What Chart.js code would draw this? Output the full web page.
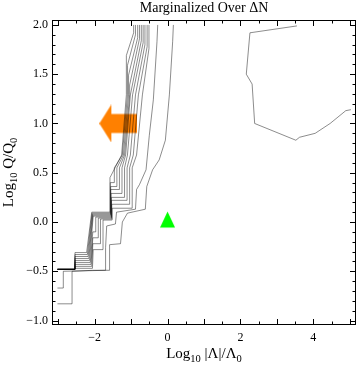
<!DOCTYPE html>
<html>
<head>
<meta charset="utf-8">
<script src="https://cdn.jsdelivr.net/npm/chart.js@4.4.0/dist/chart.umd.min.js"></script>
<style>
  body { margin: 0; background: #fff; }
</style>
</head>
<body>
<canvas id="mycanvas" width="360" height="367"></canvas>
<script>
// tick labels
var xTicks = [-2, 0, 2, 4];
var yTicks = [-1.0, -0.5, 0.0, 0.5, 1.0, 1.5, 2.0];

// contour lines as [log10 |L|/L0, log10 Q/Q0]
var contour1 = [[-3.02,-0.48],[-2.54,-0.48],[-2.54,-0.31],[-2.22,-0.31],[-2.08,0.10],[-1.58,0.10],[-1.58,0.45],[-1.26,0.68],[-1.13,1.29],[-1.13,1.69],[-0.93,1.92],[-0.93,2.00]];
var contour2 = [[-3.02,-0.48],[-2.54,-0.48],[-2.54,-0.33],[-2.20,-0.33],[-2.07,0.09],[-1.57,0.09],[-1.57,0.40],[-1.46,0.40],[-1.46,0.55],[-1.24,0.68],[-1.10,1.29],[-1.10,1.59],[-0.88,1.90],[-0.88,2.00]];
var contour3 = [[-3.02,-0.48],[-2.54,-0.48],[-2.54,-0.35],[-2.18,-0.35],[-2.06,0.08],[-1.56,0.08],[-1.56,0.36],[-1.39,0.36],[-1.39,0.55],[-1.21,0.68],[-1.07,1.29],[-1.07,1.49],[-0.82,1.87],[-0.82,2.00]];
var contour4 = [[-3.02,-0.48],[-2.54,-0.48],[-2.54,-0.37],[-2.16,-0.37],[-2.05,0.07],[-1.56,0.07],[-1.56,0.33],[-1.32,0.33],[-1.32,0.55],[-1.18,0.68],[-1.04,1.29],[-1.04,1.39],[-0.77,1.86],[-0.77,2.00]];
var contour5 = [[-3.02,-0.48],[-2.54,-0.48],[-2.54,-0.39],[-2.14,-0.39],[-2.04,0.06],[-1.55,0.06],[-1.55,0.29],[-1.25,0.29],[-1.25,0.55],[-1.15,0.68],[-1.02,1.29],[-0.72,1.84],[-0.72,2.00]];
var contour6 = [[-3.02,-0.48],[-2.54,-0.48],[-2.54,-0.41],[-2.12,-0.41],[-2.05,-0.10],[-1.97,-0.10],[-1.97,0.05],[-1.54,0.05],[-1.54,0.25],[-1.18,0.25],[-1.18,0.55],[-1.10,0.68],[-0.96,1.29],[-0.67,1.82],[-0.67,2.00]];
var contour7 = [[-3.02,-0.48],[-2.54,-0.48],[-2.54,-0.43],[-2.10,-0.43],[-2.05,-0.16],[-1.90,-0.16],[-1.90,0.04],[-1.54,0.04],[-1.54,0.22],[-1.11,0.22],[-1.11,0.55],[-1.02,0.68],[-0.88,1.29],[-0.62,1.80],[-0.62,2.00]];
var contour8 = [[-3.02,-0.48],[-2.54,-0.48],[-2.54,-0.45],[-2.08,-0.45],[-2.05,-0.22],[-1.84,-0.22],[-1.84,0.03],[-1.53,0.03],[-1.53,0.18],[-1.04,0.18],[-1.04,0.55],[-0.94,0.68],[-0.80,1.29],[-0.56,1.78],[-0.56,2.00]];
var contour9 = [[-3.02,-0.48],[-2.54,-0.48],[-2.54,-0.47],[-2.06,-0.47],[-2.04,-0.28],[-1.77,-0.28],[-1.77,0.02],[-1.52,0.02],[-1.52,0.14],[-0.97,0.14],[-0.97,0.55],[-0.85,0.68],[-0.69,1.29],[-0.51,1.76],[-0.51,2.00]];
var contour10 = [[-3.02,-0.67],[-2.86,-0.67],[-2.86,-0.50],[-1.70,-0.49],[-1.70,-0.26],[-1.67,-0.04],[-1.43,-0.02],[-1.40,0.10],[-0.88,0.13],[-0.85,0.33],[-0.77,0.38],[-0.59,0.53],[-0.50,0.88],[-0.39,1.24],[-0.29,1.83],[-0.27,2.00]];
var contour11 = [[-3.02,-0.83],[-2.62,-0.83],[-2.62,-0.50],[-2.05,-0.49],[-1.59,-0.49],[-1.59,-0.23],[-1.29,-0.22],[-1.24,0.00],[-1.10,0.09],[-0.61,0.13],[-0.57,0.36],[-0.41,0.53],[-0.23,0.63],[-0.06,0.83],[0.05,1.29],[0.14,1.83],[0.16,2.00]];
var farContour = [[3.55,1.99],[2.26,1.92],[2.16,1.50],[2.32,1.40],[2.39,1.00],[3.52,0.83],[3.62,0.86],[4.05,0.90],[4.46,1.00],[4.89,1.13],[5.03,1.14]];

var arrowPoint = [[-1.35, 1.0]];
var trianglePoint = [[0, 0]];

function arrowImage() {
  var c = document.createElement('canvas');
  c.width = 38; c.height = 38;
  var g = c.getContext('2d');
  g.fillStyle = 'rgb(255,128,0)';
  g.beginPath();
  g.moveTo(0, 19);
  g.lineTo(12, 0);
  g.lineTo(12, 9.5);
  g.lineTo(38, 9.5);
  g.lineTo(38, 28.5);
  g.lineTo(12, 28.5);
  g.lineTo(12, 38);
  g.closePath();
  g.fill();
  return c;
}

function triangleImage() {
  var c = document.createElement('canvas');
  c.width = 15; c.height = 22;
  var g = c.getContext('2d');
  g.fillStyle = 'rgb(0,255,0)';
  g.beginPath();
  g.moveTo(7.5, 0.5);
  g.lineTo(15, 16.5);
  g.lineTo(0, 16.5);
  g.closePath();
  g.fill();
  return c;
}

var lineColor = 'rgba(0,0,0,0.45)';
var serif = 'Liberation Serif';

var contourSets = [contour1, contour2, contour3, contour4, contour5, contour6, contour7,
  contour8, contour9, contour10, contour11, farContour];

var datasets = [];
// image markers keep a tiny radius so they don't push the plot area in
datasets.push({ data: trianglePoint, pointStyle: triangleImage(), pointRadius: 1, borderWidth: 0, showLine: false });
for (var i = 0; i < contourSets.length; i++) {
  datasets.push({
    data: contourSets[i],
    showLine: true,
    borderColor: lineColor,
    borderWidth: 1,
    pointRadius: 0,
    fill: false,
    tension: 0
  });
}
datasets.push({ data: arrowPoint, pointStyle: arrowImage(), pointRadius: 1, borderWidth: 0, showLine: false });

function drawRich(ctx, parts, x, y, size) {
  // parts: [text, isSub]
  var total = 0;
  parts.forEach(function(p) {
    ctx.font = (p[1] ? size * 0.7 : size) + 'px "' + serif + '"';
    total += ctx.measureText(p[0]).width;
  });
  var cx = x - total / 2;
  parts.forEach(function(p) {
    ctx.font = (p[1] ? size * 0.7 : size) + 'px "' + serif + '"';
    ctx.fillText(p[0], cx, p[1] ? y + size * 0.25 : y);
    cx += ctx.measureText(p[0]).width;
  });
}

var frameTicks = {
  id: 'frameTicks',
  afterDraw: function(chart) {
    var ctx = chart.ctx, a = chart.chartArea;
    var xs = chart.scales.x, ys = chart.scales.y;
    ctx.save();
    ctx.strokeStyle = '#000';
    ctx.lineWidth = 1;
    ctx.strokeRect(Math.round(a.left) + 0.5, Math.round(a.top) + 0.5,
      Math.round(a.right - a.left) - 1, Math.round(a.bottom - a.top) - 1);
    ctx.beginPath();
    for (var k = 0; k <= 16; k++) {
      var v = -3 + k * 0.5;
      var px = Math.round(xs.getPixelForValue(v)) + 0.5;
      var len = (k % 2 === 0) ? 6 : 3.5;
      ctx.moveTo(px, a.bottom); ctx.lineTo(px, a.bottom - len);
      ctx.moveTo(px, a.top); ctx.lineTo(px, a.top + len);
    }
    for (var j = 0; j <= 30; j++) {
      var w = -1 + j * 0.1;
      var py = Math.round(ys.getPixelForValue(w)) + 0.5;
      var l2 = (j % 5 === 0) ? 6 : 3.5;
      ctx.moveTo(a.left, py); ctx.lineTo(a.left + l2, py);
      ctx.moveTo(a.right, py); ctx.lineTo(a.right - l2, py);
    }
    ctx.stroke();

    ctx.fillStyle = '#000';
    ctx.textBaseline = 'alphabetic';
    // title
    ctx.font = '14px "' + serif + '"';
    ctx.textAlign = 'center';
    ctx.fillText('Marginalized Over \u0394N', (a.left + a.right) / 2, 12);
    ctx.textAlign = 'left';
    // x title
    drawRich(ctx, [['Log', false], ['10', true], [' |\u039B|/\u039B', false], ['0', true]],
      (a.left + a.right) / 2, 358, 15);
    // y title
    ctx.translate(13, (a.top + a.bottom) / 2);
    ctx.rotate(-Math.PI / 2);
    drawRich(ctx, [['Log', false], ['10', true], [' Q/Q', false], ['0', true]], 0, 0, 15);
    ctx.restore();
  }
};

var ctx = document.getElementById('mycanvas');

var chart = new Chart(ctx, {
  type: 'scatter',
  data: { datasets: datasets },
  options: {
    responsive: false,
    animation: false,
    layout: { padding: { left: 0, right: 2, top: 20, bottom: 0 } },
    plugins: {
      legend: { display: false },
      tooltip: { enabled: false },
      title: { display: false }
    },
    scales: {
      x: {
        type: 'linear',
        min: -3.17,
        max: 5.17,
        grid: { display: false, drawTicks: false },
        border: { display: false },
        afterBuildTicks: function(s) { s.ticks = xTicks.map(function(v) { return { value: v }; }); },
        afterFit: function(s) { s.height = 42; },
        ticks: {
          autoSkip: false,
          maxRotation: 0,
          padding: 6,
          color: '#000',
          font: { family: serif, size: 12 },
          callback: function(v) { return String(v).replace('-', '\u2212'); }
        }
      },
      y: {
        type: 'linear',
        min: -1.045,
        max: 2.05,
        grid: { display: false, drawTicks: false },
        border: { display: false },
        afterBuildTicks: function(s) { s.ticks = yTicks.map(function(v) { return { value: v }; }); },
        afterFit: function(s) { s.width = 52; },
        ticks: {
          autoSkip: false,
          padding: 4,
          color: '#000',
          font: { family: serif, size: 12 },
          callback: function(v) { return Number(v).toFixed(1).replace('-', '\u2212'); }
        }
      }
    }
  },
  plugins: [frameTicks]
});
</script>
</body>
</html>
